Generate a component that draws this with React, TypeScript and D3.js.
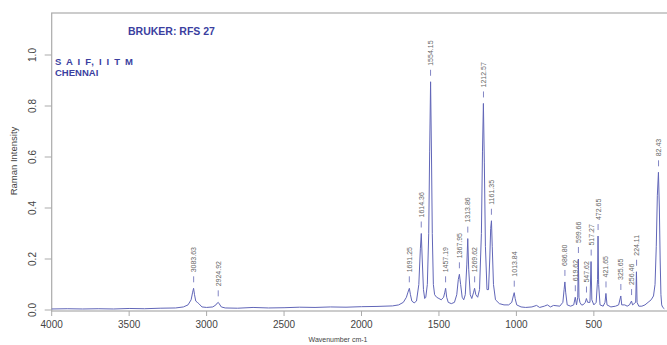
import React from 'react';
import * as d3 from 'd3';

const W = 667;
const H = 345;

// spectrum: [wavenumber cm-1, Raman intensity]
const spectrum: [number, number][] = [
  [4000, 0.004], [3900, 0.005], [3800, 0.004], [3700, 0.005], [3600, 0.004],
  [3500, 0.006], [3400, 0.005], [3300, 0.007], [3200, 0.008], [3150, 0.012],
  [3120, 0.02], [3100, 0.04], [3090, 0.07], [3084, 0.085], [3078, 0.06],
  [3070, 0.035], [3060, 0.03], [3050, 0.025], [3030, 0.012], [3000, 0.01],
  [2960, 0.012], [2940, 0.02], [2930, 0.028], [2925, 0.03], [2918, 0.024],
  [2905, 0.012], [2880, 0.008], [2800, 0.007], [2700, 0.01], [2600, 0.008],
  [2500, 0.009], [2400, 0.011], [2300, 0.01], [2200, 0.012], [2100, 0.011],
  [2000, 0.013], [1900, 0.014], [1800, 0.016], [1760, 0.02], [1730, 0.03],
  [1710, 0.05], [1700, 0.07], [1691, 0.085], [1684, 0.06], [1675, 0.035],
  [1660, 0.028], [1645, 0.035], [1630, 0.1], [1620, 0.24], [1614, 0.3],
  [1608, 0.2], [1600, 0.08], [1592, 0.045], [1585, 0.05], [1575, 0.1],
  [1566, 0.3], [1560, 0.62], [1554, 0.895], [1548, 0.6], [1543, 0.3],
  [1536, 0.1], [1528, 0.06], [1515, 0.05], [1500, 0.045], [1485, 0.04],
  [1470, 0.05], [1462, 0.07], [1457, 0.085], [1450, 0.05], [1440, 0.03],
  [1420, 0.025], [1400, 0.03], [1385, 0.06], [1375, 0.12], [1368, 0.14],
  [1360, 0.1], [1350, 0.05], [1340, 0.04], [1330, 0.06], [1320, 0.18],
  [1314, 0.28], [1308, 0.16], [1298, 0.06], [1288, 0.045], [1276, 0.07],
  [1270, 0.085], [1262, 0.06], [1250, 0.05], [1238, 0.08], [1226, 0.3],
  [1219, 0.62], [1213, 0.81], [1207, 0.58], [1200, 0.25], [1190, 0.08],
  [1180, 0.08], [1172, 0.2], [1166, 0.32], [1161, 0.35], [1156, 0.25],
  [1148, 0.1], [1135, 0.04], [1110, 0.025], [1080, 0.02], [1050, 0.02],
  [1030, 0.03], [1020, 0.055], [1014, 0.068], [1008, 0.045], [998, 0.02],
  [970, 0.012], [940, 0.01], [900, 0.012], [870, 0.018], [850, 0.01],
  [820, 0.015], [800, 0.02], [780, 0.012], [760, 0.018], [720, 0.015],
  [700, 0.03], [692, 0.08], [687, 0.11], [682, 0.07], [672, 0.02],
  [650, 0.015], [630, 0.02], [620, 0.05], [612, 0.02], [604, 0.05],
  [600, 0.2], [596, 0.05], [590, 0.03], [580, 0.02], [570, 0.02],
  [555, 0.03], [548, 0.045], [540, 0.03], [525, 0.03], [518, 0.19],
  [513, 0.04], [500, 0.02], [485, 0.03], [476, 0.12], [473, 0.29],
  [469, 0.1], [460, 0.02], [440, 0.015], [428, 0.03], [422, 0.065],
  [415, 0.02], [390, 0.012], [360, 0.015], [340, 0.02], [326, 0.055],
  [320, 0.02], [300, 0.02], [285, 0.015], [270, 0.02], [257, 0.035],
  [250, 0.02], [240, 0.025], [230, 0.03], [225, 0.15], [221, 0.03],
  [210, 0.015], [190, 0.015], [170, 0.02], [150, 0.03], [130, 0.04],
  [115, 0.055], [105, 0.1], [97, 0.25], [90, 0.45], [83, 0.54],
  [77, 0.4], [72, 0.2], [67, 0.06], [62, 0.02], [55, 0.01], [45, 0.005],
];

// labelled peaks
const peakLabels = [
  '3083.63', '2924.92', '1691.25', '1614.36', '1554.15', '1457.19', '1367.95',
  '1313.86', '1269.62', '1212.57', '1161.35', '1013.84', '686.80', '619.62',
  '599.66', '547.62', '517.27', '472.65', '421.65', '325.65', '256.46',
  '224.11', '82.43',
];
const peakHeights = [
  0.085, 0.03, 0.085, 0.3, 0.895, 0.085, 0.14, 0.28, 0.085, 0.81, 0.35, 0.068,
  0.11, 0.05, 0.2, 0.045, 0.19, 0.29, 0.065, 0.055, 0.035, 0.15, 0.54,
];

const xTicks = [4000, 3500, 3000, 2500, 2000, 1500, 1000, 500];
const yTicks = [0, 0.2, 0.4, 0.6, 0.8, 1.0];

const FONT = 'Liberation Sans, Arial, sans-serif';
const LINE = '#6166b8';
const AXIS = '#ababab';

export default function App() {
  const x = d3.scaleLinear().domain([4000, 0]).range([51.7, 671.3]);
  const y = d3.scaleLinear().domain([0, 1]).range([310, 55]);
  const top = 13;
  const bottom = 311;
  const right = 672;

  const line = d3.line<[number, number]>()
    .x(d => x(d[0]))
    .y(d => y(d[1]));

  return (
    <svg width={W} height={H} style={{ position: 'absolute', left: 0, top: 0, background: '#fff' }}
      fontFamily={FONT}>
      {/* frame */}
      <rect x={x(4000)} y={top} width={right - x(4000)} height={bottom - top}
        fill="none" stroke={AXIS} strokeWidth={1.2} />

      {/* y axis */}
      {yTicks.map(t => (
        <g key={t}>
          <line x1={x(4000) - 7} x2={x(4000)} y1={y(t)} y2={y(t)} stroke={AXIS} />
          <text transform={`translate(35.5,${y(t)}) rotate(-90)`} textAnchor="middle"
            fontSize={10} fill="#444">{t.toFixed(1)}</text>
        </g>
      ))}
      <text transform={`translate(17,161) rotate(-90)`} textAnchor="middle" fontSize={9.5} fill="#444">
        Raman Intensity
      </text>

      {/* x axis */}
      {xTicks.map(t => (
        <g key={t}>
          <line x1={x(t)} x2={x(t)} y1={bottom} y2={bottom + 5} stroke={AXIS} />
          <text x={x(t)} y={328} textAnchor="middle" fontSize={10} fill="#444">{t}</text>
        </g>
      ))}
      <text x={338} y={342} textAnchor="middle" fontSize={7} fill="#444">Wavenumber cm-1</text>

      {/* spectrum */}
      <path d={line(spectrum) || ''} fill="none" stroke={LINE} strokeWidth={1} />

      {/* peak labels */}
      {peakLabels.map((lab, i) => {
        const px = x(+lab);
        const py = y(peakHeights[i]);
        return (
          <g key={lab}>
            <line x1={px} x2={px} y1={py - 12} y2={py - 6} stroke="#8386c4" strokeWidth={1} />
            <text transform={`translate(${px + 2.5},${py - 16}) rotate(-90)`} fontSize={7}
              fill="#666">{lab}</text>
          </g>
        );
      })}

      {/* annotations */}
      <text x={128} y={34.5} fontSize={10.5} fontWeight="bold" fill="#3b3f9f">BRUKER: RFS 27</text>
      <text x={55} y={65} fontSize={9.5} fontWeight="bold" fill="#3b3f9f" letterSpacing={1.2}>S A I F, I I T M</text>
      <text x={55} y={76} fontSize={9.5} fontWeight="bold" fill="#3b3f9f">CHENNAI</text>
    </svg>
  );
}
